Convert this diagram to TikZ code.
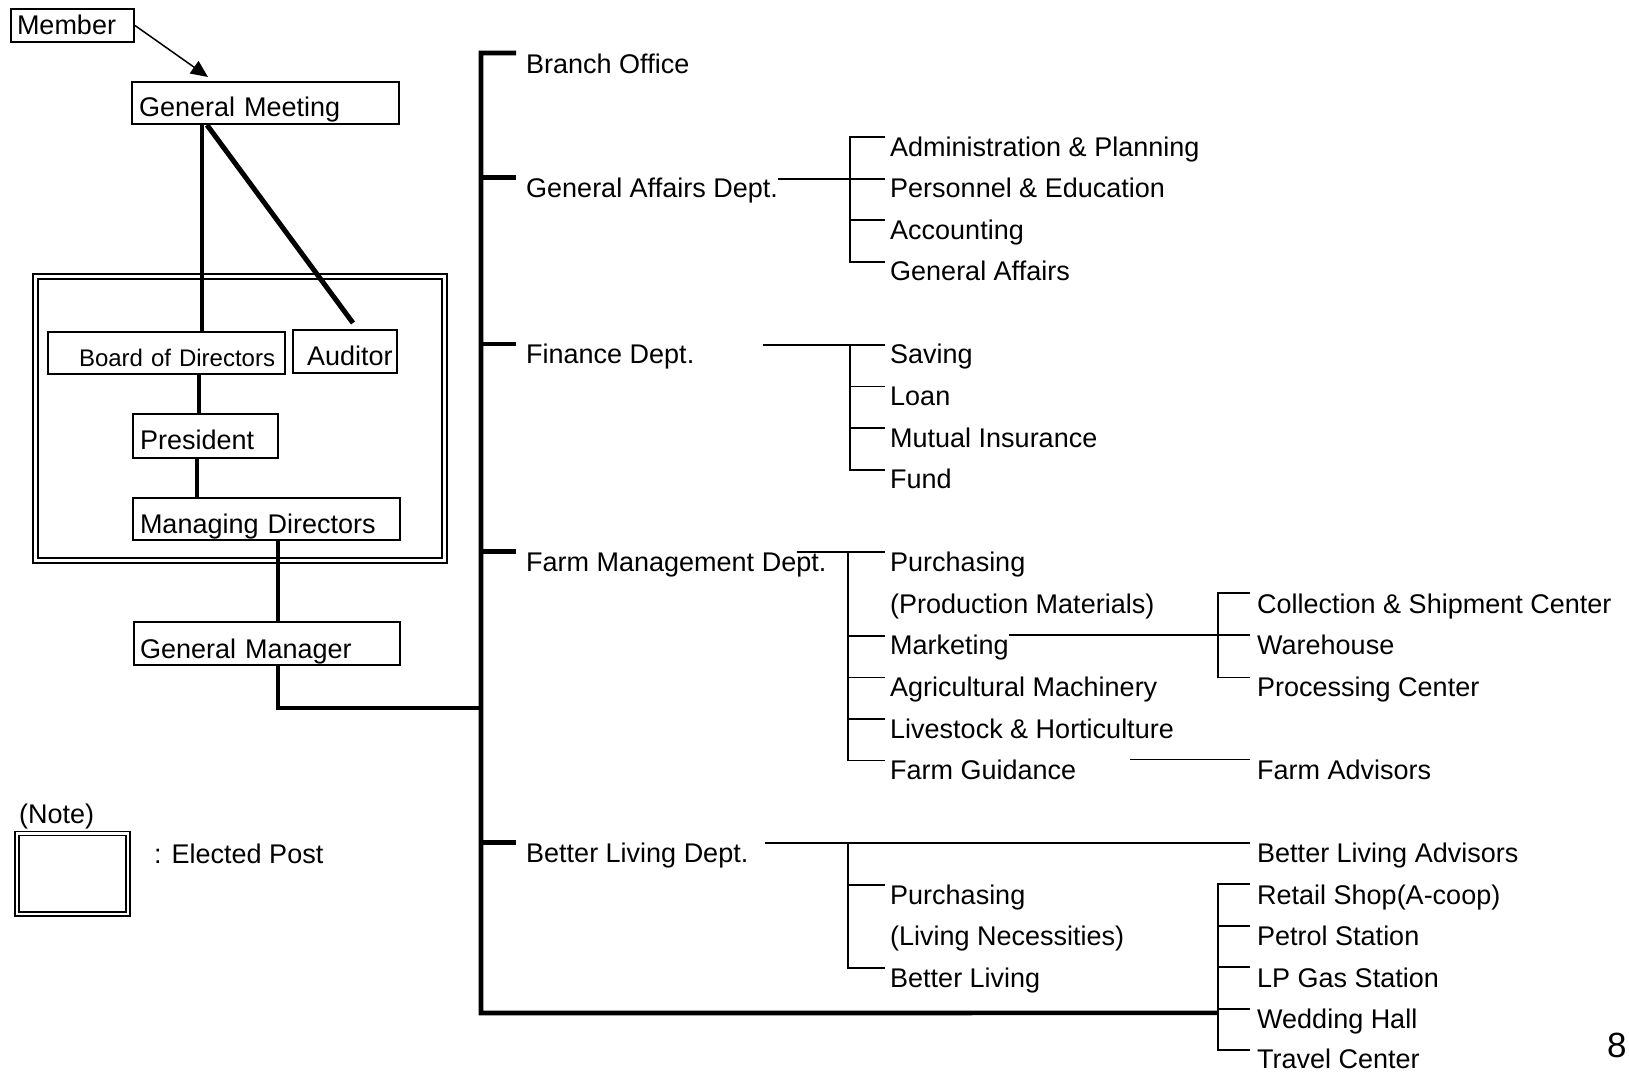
\documentclass[tikz,border=0pt]{standalone}
\usepackage{fontspec}
\setmainfont{Liberation Sans}
\usetikzlibrary{calc,arrows.meta}
\newcommand\diafont{\fontsize{27}{32}\selectfont}
\newcommand\bodfont{\fontsize{24}{29}\selectfont}
\newcommand\pgnumfont{\fontsize{35}{40}\selectfont}
\begin{document}
\begin{tikzpicture}[x=1pt,y=-1pt,
  box/.style={draw, line width=2pt, anchor=north west, inner sep=0pt, align=left, font=\diafont},
  lbl/.style={anchor=base west, inner sep=0pt, font=\diafont},
  thickln/.style={line width=4.6pt},
  thinln/.style={line width=1.8pt},
  frameln/.style={line width=1.4pt, double, double distance=3.4pt},
]
\useasboundingbox (0,0) rectangle (1629,1071);

% elected-post frame
\draw[frameln] (35.5,276.5) rectangle (444.5,560.5);

% left hierarchy boxes
\node[box, text width=123pt, text height=25pt, text depth=8pt] (member) at (10,8) {\hspace*{6pt}Member};
\node[box, text width=267pt, text height=34pt, text depth=8pt] (gm) at (131,81) {\hspace*{7pt}General Meeting};
\node[box, font=\bodfont, text width=237pt, text height=34pt, text depth=8pt] (bod) at (47,331) {\hspace*{31pt}Board of Directors};
\node[box, text width=104pt, text height=35pt, text depth=8pt] (aud) at (292,329) {\hspace*{14pt}Auditor};
\node[box, text width=145pt, text height=35pt, text depth=9pt] (pres) at (132,413) {\hspace*{7pt}President};
\node[box, text width=267pt, text height=35pt, text depth=7pt] (md) at (132,497) {\hspace*{7pt}Managing Directors};
\node[box, text width=266pt, text height=36pt, text depth=7pt] (gmgr) at (133,621) {\hspace*{6pt}General Manager};

% legend
\node[lbl] (note) at (19,823) {(Note)};
\draw[line width=1.4pt, double, double distance=2.6pt] (17,833.5) rectangle (128,914);
\node[lbl] (elected) at (154,863) {: Elected Post};

% departments
\node[lbl] (branch) at (526,73) {Branch Office};
\node[lbl] (gad) at (526,197.7) {General Affairs Dept.};
\node[lbl] (fin) at (526,363.9) {Finance Dept.};
\node[lbl] (fmd) at (526,571.7) {Farm Management Dept.};
\node[lbl] (bld) at (526,862.6) {Better Living Dept.};

% middle column
\node[lbl] (adm) at (890,156.1) {Administration \& Planning};
\node[lbl] (per) at (890,197.7) {Personnel \& Education};
\node[lbl] (acc) at (890,239.2) {Accounting};
\node[lbl] (gaf) at (890,280.8) {General Affairs};
\node[lbl] (sav) at (890,363.9) {Saving};
\node[lbl] (loan) at (890,405.5) {Loan};
\node[lbl] (mut) at (890,447.0) {Mutual Insurance};
\node[lbl] (fund) at (890,488.6) {Fund};
\node[lbl] (pur) at (890,571.7) {Purchasing};
\node[lbl] (prod) at (890,613.3) {(Production Materials)};
\node[lbl] (mkt) at (890,654.8) {Marketing};
\node[lbl] (agri) at (890,696.4) {Agricultural Machinery};
\node[lbl] (live) at (890,738.0) {Livestock \& Horticulture};
\node[lbl] (fguid) at (890,779.5) {Farm Guidance};
\node[lbl] (pur2) at (890,904.2) {Purchasing};
\node[lbl] (livnec) at (890,945.8) {(Living Necessities)};
\node[lbl] (bl) at (890,987.3) {Better Living};

% right column
\node[lbl] (coll) at (1257,613.3) {Collection \& Shipment Center};
\node[lbl] (wh) at (1257,654.8) {Warehouse};
\node[lbl] (proc) at (1257,696.4) {Processing Center};
\node[lbl] (fadv) at (1257,779.5) {Farm Advisors};
\node[lbl] (bla) at (1257,862.6) {Better Living Advisors};
\node[lbl] (ret) at (1257,904.2) {Retail Shop(A-coop)};
\node[lbl] (pet) at (1257,945.8) {Petrol Station};
\node[lbl] (lpg) at (1257,987.3) {LP Gas Station};
\node[lbl] (wed) at (1257,1028.9) {Wedding Hall};
\node[lbl] (trav) at (1257,1068) {Travel Center};

\node[anchor=base west, inner sep=0pt, font=\pgnumfont] (pgno) at (1607,1057) {8};

% left connectors
\draw[line width=1.5pt, -{Triangle[length=17pt,width=15pt]}] (member.east) -- ($(gm.north west)+(77,-4)$);
\draw[thickln] ($(gm.south west)+(71,0)$) -- ($(bod.north west)+(155,0)$);
\draw[line width=5pt] ($(gm.south west)+(76,0)$) -- ($(aud.north west)+(61,-6)$);
\draw[thickln] ($(bod.south west)+(152,0)$) -- ($(pres.north west)+(67,0)$);
\draw[thickln] ($(pres.south west)+(65,0)$) -- ($(md.north west)+(65,0)$);
\draw[thickln] ($(md.south west)+(146,0)$) -- ($(gmgr.north west)+(145,0)$);

% trunk
\coordinate (trunkbot) at (481,1013);
\coordinate (gmjoin) at (481,708);
\coordinate (bjoin) at ($(wed.base west)+(-39,-16)$);
\draw[thickln] ($(branch.base west)+(-10,-20)$) -| (trunkbot) -- (bjoin);
\draw[thickln] ($(gad.base west)+(-10,-20)$) -- ++(-36,0);
\draw[thickln] ($(fin.base west)+(-10,-20)$) -- ++(-36,0);
\draw[thickln] ($(fmd.base west)+(-10,-20)$) -- ++(-36,0);
\draw[thickln] ($(bld.base west)+(-10,-20)$) -- ++(-36,0);
\draw[thickln] ($(gmgr.south west)+(145,0)$) |- (gmjoin);

% general affairs
\draw[thinln] ($(gad.base east)+(0,-19)$) -- ($(per.base west)+(-40,-19)$);
\draw[thinln] ($(adm.base west)+(-5,-19)$) -- ++(-35,0) |- ($(gaf.base west)+(-5,-19)$);
\draw[thinln] ($(per.base west)+(-40,-19)$) -- ++(35,0);
\draw[thinln] ($(acc.base west)+(-40,-19)$) -- ++(35,0);

% finance
\draw[thinln] ($(fin.base east)+(68,-19)$) -- ($(sav.base west)+(-5,-19)$);
\draw[thinln] ($(sav.base west)+(-40,-19)$) |- ($(fund.base west)+(-5,-19)$);
\draw[thinln] ($(loan.base west)+(-40,-19)$) -- ++(35,0);
\draw[thinln] ($(mut.base west)+(-40,-19)$) -- ++(35,0);

% farm management
\draw[thinln] ($(fmd.base east)+(-30,-20)$) -- ($(pur.base west)+(-5,-20)$);
\draw[thinln] ($(pur.base west)+(-42,-20)$) |- ($(fguid.base west)+(-5,-19)$);
\draw[thinln] ($(mkt.base west)+(-42,-19)$) -- ++(37,0);
\draw[thinln] ($(agri.base west)+(-42,-19)$) -- ++(37,0);
\draw[thinln] ($(live.base west)+(-42,-19)$) -- ++(37,0);
\draw[thinln] ($(mkt.base east)+(0,-20)$) -- ($(wh.base west)+(-7,-20)$);
\draw[thinln] ($(coll.base west)+(-7,-20)$) -- ++(-32,0) |- ($(proc.base west)+(-7,-19)$);
\draw[thinln] ($(fguid.base east)+(54,-20)$) -- ($(fadv.base west)+(-7,-20)$);

% better living
\draw[thinln] ($(bld.base east)+(16,-20)$) -- ($(bla.base west)+(-7,-20)$);
\draw[thinln] ($(bl.base west)+(-5,-19)$) -| ($(bla.base west)+(-409,-20)$);
\draw[thinln] ($(pur2.base west)+(-42,-19)$) -- ++(37,0);
\draw[thinln] ($(ret.base west)+(-7,-20)$) -- ++(-32,0) |- ($(trav.base west)+(-7,-18)$);
\draw[thinln] ($(pet.base west)+(-39,-20)$) -- ++(32,0);
\draw[thinln] ($(lpg.base west)+(-39,-20)$) -- ++(32,0);
\draw[thinln] ($(wed.base west)+(-39,-20)$) -- ++(32,0);
\end{tikzpicture}
\end{document}
